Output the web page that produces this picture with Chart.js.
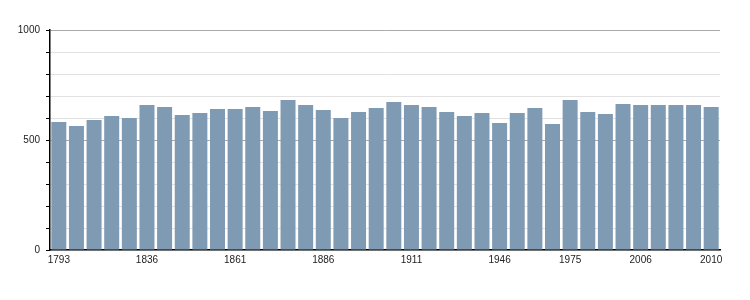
<!DOCTYPE html>
<html>
<head>
<meta charset="utf-8">
<script src="https://cdn.jsdelivr.net/npm/chart.js@4/dist/chart.umd.min.js"></script>
<style>
html,body{margin:0;padding:0;background:#fff;}
#wrap{width:750px;height:300px;position:relative;}
</style>
</head>
<body>
<div id="wrap"><canvas id="c" width="750" height="300"></canvas></div>
<script>
const years = [1793,1800,1806,1821,1831,1836,1841,1846,1851,1856,1861,1866,1872,1876,1881,1886,1891,1896,1901,1906,1911,1921,1926,1931,1936,1946,1954,1962,1968,1975,1982,1990,1999,2006,2007,2008,2009,2010];
const population = [582,564,591,609,600,659,650,614,623,641,641,650,632,682,659,636,600,627,645,673,659,650,627,609,623,577,623,645,573,682,627,618,664,659,659,659,659,650];
const shownYears = [1793,1836,1861,1886,1911,1946,1975,2006,2010];
const yTickLabels = [0,500,1000];

new Chart(document.getElementById('c'), {
  type: 'bar',
  data: {
    labels: years.map(String),
    datasets: [{
      data: population,
      backgroundColor: '#7f9ab3',
      borderWidth: 0,
      barPercentage: 0.85,
      categoryPercentage: 1.0
    }]
  },
  options: {
    responsive: false,
    animation: false,
    devicePixelRatio: 1,
    layout: { padding: { left: 0, right: 30, top: 30, bottom: 0 } },
    plugins: { legend: { display: false }, tooltip: { enabled: false } },
    scales: {
      x: {
        offset: true,
        grid: { display: false, drawTicks: false },
        border: { display: true, color: '#000', width: 1.5 },
        ticks: {
          autoSkip: false,
          maxRotation: 0,
          padding: 4,
          color: '#222',
          font: { family: 'Liberation Sans, Arial, sans-serif', size: 10 },
          callback: function(v, i) {
            const y = years[i];
            return shownYears.includes(y) ? String(y) : '';
          }
        },
        afterFit: function(s) { s.height = 50; }
      },
      y: {
        min: 0, max: 1000,
        grid: {
          color: function(ctx) {
            const v = ctx.tick && ctx.tick.value;
            if (v === 500 || v === 1000) return '#aaaaaa';
            return '#e2e2e2';
          },
          tickColor: '#000',
          tickLength: 4,
          lineWidth: 1
        },
        border: { display: true, color: '#000', width: 1.5 },
        ticks: {
          stepSize: 100,
          autoSkip: false,
          padding: 6,
          color: '#222',
          font: { family: 'Liberation Sans, Arial, sans-serif', size: 10 },
          callback: function(v) { return yTickLabels.includes(v) ? String(v) : ''; }
        },
        afterFit: function(s) { s.width = 50; }
      }
    }
  }
});
</script>
</body>
</html>
